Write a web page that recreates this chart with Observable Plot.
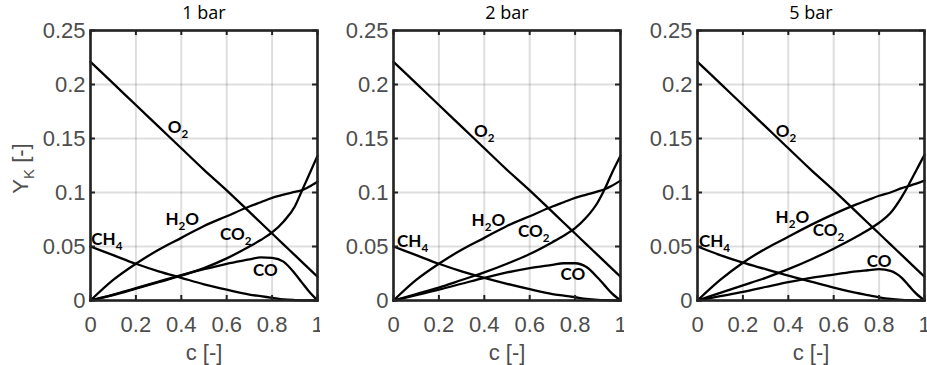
<!DOCTYPE html>
<html><head><meta charset="utf-8">
<script src="https://cdn.jsdelivr.net/npm/d3@7"></script>
<script src="https://cdn.jsdelivr.net/npm/@observablehq/plot@0.6"></script>
<style>
body{margin:0;background:#fff;}
#row{display:flex;width:927px;height:365px;overflow:hidden;}
#row svg{display:block;flex:none;}
</style></head><body><div id="row"></div>
<script>
// ---------- data ----------
const cGrid = [0, 0.1, 0.2, 0.3, 0.4, 0.5, 0.6, 0.7, 0.75, 0.8, 0.85, 0.9, 0.93, 0.96, 1];
const panelTitles = ["1 bar", "2 bar", "5 bar"];
const speciesNames = ["O_2", "H_2O", "CO_2", "CO", "CH_4"];

// 1 bar
const o2_1bar  = [0.221, 0.201, 0.181, 0.161, 0.141, 0.121, 0.102, 0.082, 0.072, 0.062, 0.052, 0.042, 0.036, 0.030, 0.022];
const h2o_1bar = [0, 0.019, 0.034, 0.047, 0.058, 0.069, 0.078, 0.087, 0.091, 0.095, 0.098, 0.1005, 0.102, 0.105, 0.110];
const co2_1bar = [0, 0.005, 0.011, 0.017, 0.023, 0.030, 0.039, 0.050, 0.056, 0.063, 0.073, 0.087, 0.101, 0.115, 0.134];
const co_1bar  = [0, 0.0055, 0.0115, 0.0175, 0.0235, 0.029, 0.034, 0.038, 0.040, 0.0395, 0.036, 0.025, 0.017, 0.009, 0];
const ch4_1bar = [0.050, 0.042, 0.034, 0.027, 0.021, 0.015, 0.010, 0.0055, 0.004, 0.0025, 0.001, 0.0004, 0.0002, 0.0001, 0];

// 2 bar
const o2_2bar  = [0.221, 0.201, 0.181, 0.161, 0.141, 0.121, 0.102, 0.082, 0.072, 0.062, 0.052, 0.042, 0.036, 0.030, 0.022];
const h2o_2bar = [0, 0.019, 0.034, 0.047, 0.058, 0.069, 0.078, 0.087, 0.091, 0.095, 0.098, 0.101, 0.103, 0.106, 0.111];
const co2_2bar = [0, 0.006, 0.012, 0.019, 0.026, 0.034, 0.043, 0.054, 0.060, 0.067, 0.077, 0.091, 0.103, 0.117, 0.134];
const co_2bar  = [0, 0.005, 0.010, 0.0155, 0.021, 0.026, 0.030, 0.033, 0.0345, 0.0345, 0.031, 0.021, 0.014, 0.007, 0];
const ch4_2bar = [0.050, 0.042, 0.034, 0.027, 0.021, 0.0155, 0.0105, 0.006, 0.0045, 0.003, 0.0015, 0.0006, 0.0003, 0.0001, 0];

// 5 bar
const o2_5bar  = [0.221, 0.201, 0.181, 0.161, 0.141, 0.121, 0.102, 0.082, 0.072, 0.062, 0.052, 0.042, 0.036, 0.030, 0.022];
const h2o_5bar = [0, 0.019, 0.035, 0.048, 0.059, 0.070, 0.080, 0.089, 0.093, 0.097, 0.100, 0.104, 0.106, 0.108, 0.111];
const co2_5bar = [0, 0.007, 0.014, 0.021, 0.029, 0.038, 0.048, 0.059, 0.065, 0.072, 0.081, 0.096, 0.107, 0.119, 0.135];
const co_5bar  = [0, 0.004, 0.008, 0.0125, 0.017, 0.021, 0.024, 0.027, 0.028, 0.029, 0.0275, 0.021, 0.014, 0.007, 0];
const ch4_5bar = [0.050, 0.042, 0.035, 0.029, 0.023, 0.0175, 0.012, 0.007, 0.005, 0.003, 0.0015, 0.0006, 0.0003, 0.0001, 0];

// label anchor points (c, Y) per panel, in speciesNames order
const labelC_1bar = [0.385, 0.404, 0.64, 0.77, 0.072];
const labelY_1bar = [0.160, 0.0747, 0.0614, 0.0278, 0.0566];
const labelC_2bar = [0.40, 0.418, 0.618, 0.79, 0.084];
const labelY_2bar = [0.1566, 0.0744, 0.0638, 0.0237, 0.0545];
const labelC_5bar = [0.39, 0.418, 0.577, 0.80, 0.075];
const labelY_5bar = [0.1566, 0.0768, 0.0645, 0.036, 0.0545];

const xTicks = [0, 0.2, 0.4, 0.6, 0.8, 1];
const xTickLabels = ["0", "0.2", "0.4", "0.6", "0.8", "1"];
const yTicks = [0, 0.05, 0.1, 0.15, 0.2, 0.25];
const yTickLabels = ["0", "0.05", "0.1", "0.15", "0.2", "0.25"];
const xLabel = "c [-]";
const yLabel = "Y_K [-]";

// ---------- build ----------
const panels = [
  {series: [o2_1bar, h2o_1bar, co2_1bar, co_1bar, ch4_1bar], lc: labelC_1bar, ly: labelY_1bar},
  {series: [o2_2bar, h2o_2bar, co2_2bar, co_2bar, ch4_2bar], lc: labelC_2bar, ly: labelY_2bar},
  {series: [o2_5bar, h2o_5bar, co2_5bar, co_5bar, ch4_5bar], lc: labelC_5bar, ly: labelY_5bar}
];
const layout = [
  {width: 320, marginLeft: 90, marginRight: 3},
  {width: 304, marginLeft: 73, marginRight: 4},
  {width: 303, marginLeft: 73, marginRight: 3}
];
const axisFont = "'Liberation Sans', Arial, sans-serif";
const labelFont = "Lato, 'Open Sans', sans-serif";
const titleFont = "'Open Sans', Lato, sans-serif";
const axisColor = "#4d4d4d";

function applySubscripts(svg) {
  svg.querySelectorAll("g.sub text").forEach(t => {
    const s = t.textContent;
    if (!s.includes("_")) return;
    const fs = parseFloat(getComputedStyle(t).fontSize) || 14;
    const shift = Math.round(fs * 0.28);
    t.textContent = "";
    const re = /_(.)|[^_]+/g;
    let m, down = false;
    while ((m = re.exec(s))) {
      const ts = document.createElementNS("http://www.w3.org/2000/svg", "tspan");
      if (m[1] !== undefined) {
        ts.textContent = m[1];
        ts.setAttribute("font-size", (fs * 0.68).toFixed(1));
        if (!down) { ts.setAttribute("dy", shift); down = true; }
      } else {
        ts.textContent = m[0];
        if (down) { ts.setAttribute("dy", -shift); down = false; }
      }
      t.appendChild(ts);
    }
  });
}

const row = document.getElementById("row");
panels.forEach((p, pi) => {
  const rows = [];
  p.series.forEach((arr, si) => arr.forEach((v, i) => rows.push({c: cGrid[i], Y: v, species: speciesNames[si]})));
  const labels = speciesNames.map((n, i) => ({name: n, c: p.lc[i], Y: p.ly[i]}));
  const L = layout[pi];
  const plotW = L.width - L.marginLeft - L.marginRight;
  const plotH = 365 - 30 - 65;
  const marks = [
    Plot.gridX(xTicks, {stroke: "#000", strokeOpacity: 0.13, strokeWidth: 2}),
    Plot.gridY(yTicks, {stroke: "#000", strokeOpacity: 0.13, strokeWidth: 2}),
    Plot.line(rows, {x: "c", y: "Y", z: "species", stroke: "#000", strokeWidth: 2.3, curve: "monotone-x"}),
    // inward ticks on all four sides
    Plot.tickX(xTicks, {x: d => d, insetTop: plotH - 5, stroke: "#222", strokeWidth: 2}),
    Plot.tickX(xTicks, {x: d => d, insetBottom: plotH - 5, stroke: "#222", strokeWidth: 2}),
    Plot.tickY(yTicks, {y: d => d, insetRight: plotW - 5, stroke: "#222", strokeWidth: 2}),
    Plot.tickY(yTicks, {y: d => d, insetLeft: plotW - 5, stroke: "#222", strokeWidth: 2}),
    Plot.frame({stroke: "#222", strokeWidth: 2.6}),
    Plot.axisX(xTicks, {tickSize: 0, tickPadding: 16, fontSize: 22, fill: axisColor, label: null,
      tickFormat: d => xTickLabels[xTicks.indexOf(d)]}),
    Plot.axisY(yTicks, {tickSize: 0, tickPadding: 5, fontSize: 22, fill: axisColor, label: null,
      tickFormat: d => yTickLabels[yTicks.indexOf(d)]}),
    Plot.text(labels, {x: "c", y: "Y", text: "name", fontSize: 17, fontWeight: "bold", fontFamily: labelFont,
      fill: "#000", className: "sub"}),
    Plot.text([panelTitles[pi]], {frameAnchor: "top", dy: -17, lineAnchor: "middle", textAnchor: "middle",
      fontSize: 18, fontFamily: titleFont, fill: "#000"}),
    Plot.text([xLabel], {frameAnchor: "bottom", dy: 52, lineAnchor: "middle", textAnchor: "middle",
      fontSize: 22, fill: axisColor})
  ];
  if (pi === 0) {
    marks.push(Plot.text([yLabel], {frameAnchor: "left", dx: -70, dy: 3, rotate: -90, lineAnchor: "middle",
      textAnchor: "middle", fontSize: 22, fill: axisColor, className: "sub"}));
  }
  const svg = Plot.plot({
    width: L.width, height: 365,
    marginTop: 30, marginBottom: 65, marginLeft: L.marginLeft, marginRight: L.marginRight,
    style: {fontFamily: axisFont, background: "#fff", overflow: "visible"},
    x: {domain: [0, 1]},
    y: {domain: [0, 0.25]},
    marks
  });
  row.appendChild(svg);
  applySubscripts(svg);
});
</script>
</body></html>
